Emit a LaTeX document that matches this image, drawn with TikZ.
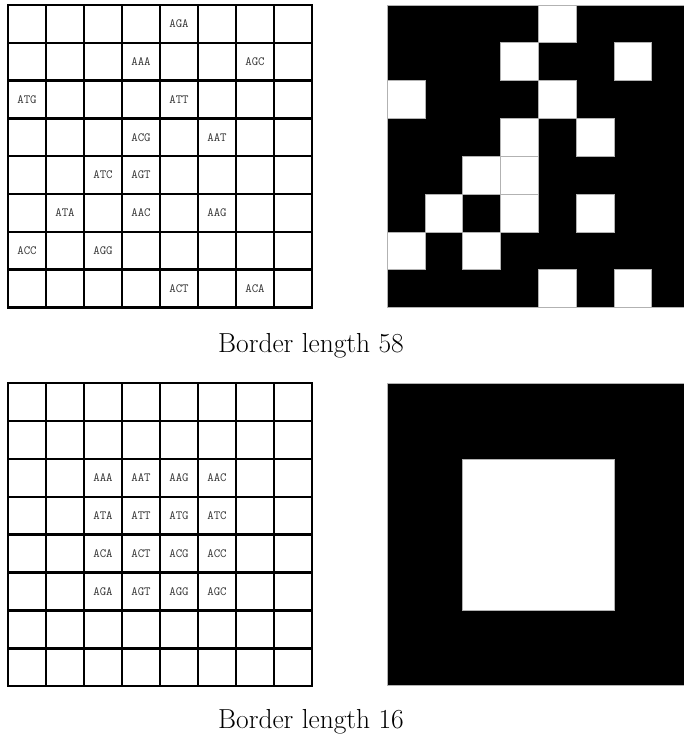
\documentclass[tikz,border=0pt]{standalone}
\begin{document}
\begin{tikzpicture}[x=1pt,y=-1pt,
  gridline/.style={line width=2.4pt,black,line cap=rect},
  lbl/.style={font=\ttfamily\fontsize{12.5}{13}\selectfont,text=black!80,inner sep=0pt},
  capt/.style={font=\fontsize{27.5}{30}\selectfont,anchor=base,inner sep=0pt},
  blk/.style={fill=black,draw=gray!60,line width=0.6pt},
  wht/.style={fill=white,draw=gray!60,line width=0.6pt}]
\useasboundingbox (0,0) rectangle (684,738);
\fill[white] (0,0) rectangle (684,738);

% ---------- top-left grid ----------
\foreach \i in {0,...,8} {
  \draw[gridline] (8+38*\i,5) -- (8+38*\i,5+8*37.8);
  \draw[gridline] (8,5+37.8*\i) -- (8+8*38,5+37.8*\i);
}
\foreach \r/\c/\t in {0/4/AGA,1/3/AAA,1/6/AGC,2/0/ATG,2/4/ATT,3/3/ACG,3/5/AAT,
  4/2/ATC,4/3/AGT,5/1/ATA,5/3/AAC,5/5/AAG,6/0/ACC,6/2/AGG,7/4/ACT,7/6/ACA} {
  \node[lbl] (t-\r-\c) at (8+38*\c+19,5+37.8*\r+18.9) {\t};
}

% ---------- top-right pattern ----------
\begin{scope}
\clip (380,0) rectangle (684,738);
\draw[blk] (387,5) rectangle (387+8*37.8,5+8*37.8);
\foreach \r/\c in {0/4,1/3,1/6,2/0,2/4,3/3,3/5,4/2,4/3,5/1,5/3,5/5,6/0,6/2,7/4,7/6} {
  \draw[wht] (387+37.8*\c,5+37.8*\r) rectangle ++(37.8,37.8);
}
\end{scope}

\node[capt] (cap1) at (311,352) {Border length 58};

% ---------- bottom-left grid ----------
\foreach \i in {0,...,8} {
  \draw[gridline] (8+38*\i,383) -- (8+38*\i,383+8*37.9);
  \draw[gridline] (8,383+37.9*\i) -- (8+8*38,383+37.9*\i);
}
\foreach \r/\c/\t in {2/2/AAA,2/3/AAT,2/4/AAG,2/5/AAC,
                      3/2/ATA,3/3/ATT,3/4/ATG,3/5/ATC,
                      4/2/ACA,4/3/ACT,4/4/ACG,4/5/ACC,
                      5/2/AGA,5/3/AGT,5/4/AGG,5/5/AGC} {
  \node[lbl] (b-\r-\c) at (8+38*\c+19,383+37.9*\r+18.95) {\t};
}

% ---------- bottom-right pattern ----------
\begin{scope}
\clip (380,0) rectangle (684,738);
\draw[blk] (387,383.3) rectangle (387+8*37.8,383.3+8*37.8);
\draw[wht] (387+2*37.8,383.3+2*37.8) rectangle (387+6*37.8,383.3+6*37.8);
\end{scope}

\node[capt] (cap2) at (311,728) {Border length 16};
\end{tikzpicture}
\end{document}
